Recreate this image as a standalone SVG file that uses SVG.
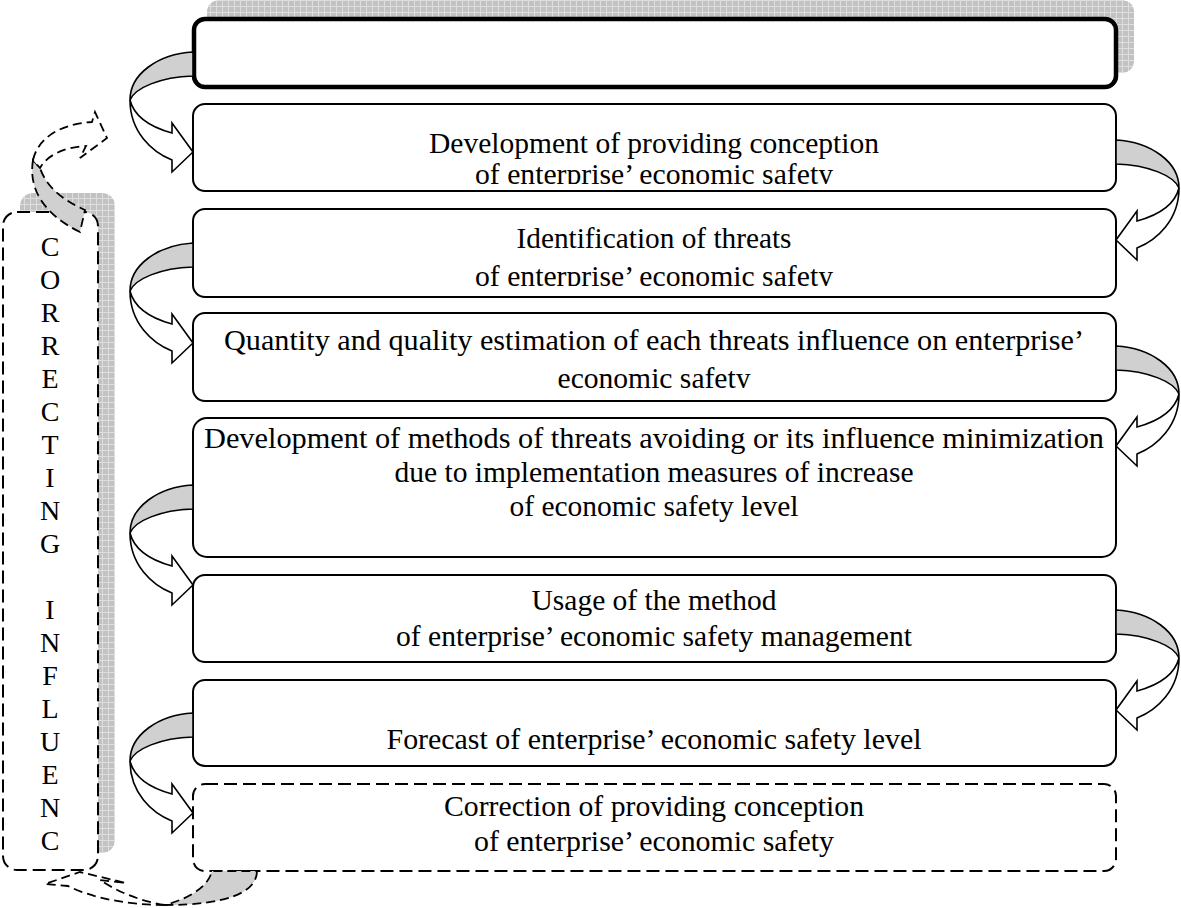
<svg xmlns="http://www.w3.org/2000/svg" width="1181" height="908" viewBox="0 0 1181 908">
<style>
.box{fill:#fff;stroke:#000;stroke-width:2}
.dash{fill:#fff;stroke:#000;stroke-width:2;stroke-dasharray:13 6}
.t{font-family:"Liberation Serif","Times New Roman",serif;font-size:30px;fill:#000;text-anchor:middle}
.v{font-family:"Liberation Serif","Times New Roman",serif;font-size:28px;fill:#000;text-anchor:middle}
.band{fill:#d0d0d0;stroke:#000;stroke-width:1.6;stroke-linejoin:round}
.rib{fill:#fff;stroke:#000;stroke-width:1.6;stroke-linejoin:miter}
.dband{fill:#d0d0d0;stroke:#000;stroke-width:1.8;stroke-dasharray:9 5}
.drib{fill:#fff;stroke:#000;stroke-width:1.8;stroke-dasharray:9 5}
</style>
<defs>
<pattern id="hatch" width="6" height="6" patternUnits="userSpaceOnUse">
<rect width="6" height="6" fill="#c2c2c2"/>
<path d="M0 0.5H6M0.5 0V6" stroke="#dedede" stroke-width="1"/>
</pattern>
<g id="carrow">
<path class="band" d="M0,0 C-35,2 -63,22 -63,48 C-58,36 -33,25 0,24 Z"/>
<path class="rib" d="M-63,48 C-63,80 -41,100 -21,108 L-21,120 L0,100 L-21,71 L-21,81 C-43,75 -59,64 -63,48 Z"/>
</g>
<clipPath id="c2"><rect x="193" y="104" width="923" height="80"/></clipPath>
<clipPath id="c3"><rect x="193" y="209" width="923" height="77"/></clipPath>
<clipPath id="c4"><rect x="193" y="313" width="923" height="75"/></clipPath>
</defs>

<g id="node-correcting">
<rect x="20" y="193" width="95" height="660" rx="13" fill="url(#hatch)"/>
<rect class="dash" x="3" y="212" width="95" height="658" rx="14"/>
<g class="v">
<text x="50" y="256">C</text>
<text x="50" y="289">O</text>
<text x="50" y="322">R</text>
<text x="50" y="355">R</text>
<text x="50" y="388">E</text>
<text x="50" y="421">C</text>
<text x="50" y="454">T</text>
<text x="50" y="487">I</text>
<text x="50" y="520">N</text>
<text x="50" y="553">G</text>
<text x="50" y="619">I</text>
<text x="50" y="652">N</text>
<text x="50" y="685">F</text>
<text x="50" y="718">L</text>
<text x="50" y="751">U</text>
<text x="50" y="784">E</text>
<text x="50" y="817">N</text>
<text x="50" y="850">C</text>
</g>
</g>

<g id="node-top">
<rect x="207" y="0" width="927" height="73" rx="12" fill="url(#hatch)"/>
<rect x="194" y="19" width="922" height="68" rx="11" fill="#fff" stroke="#000" stroke-width="4.5"/>
</g>

<g id="node-development">
<rect class="box" x="193" y="104" width="923" height="87" rx="12"/>
<text class="t" x="654" y="153" textLength="450" lengthAdjust="spacingAndGlyphs">Development of providing conception</text>
<text class="t" x="654" y="184" textLength="358" lengthAdjust="spacingAndGlyphs" clip-path="url(#c2)">of enterprise’ economic safety</text>
</g>

<g id="node-identification">
<rect class="box" x="193" y="209" width="923" height="88" rx="12"/>
<text class="t" x="654" y="248" textLength="275" lengthAdjust="spacingAndGlyphs">Identification of threats</text>
<text class="t" x="654" y="286" textLength="358" lengthAdjust="spacingAndGlyphs" clip-path="url(#c3)">of enterprise’ economic safety</text>
</g>

<g id="node-estimation">
<rect class="box" x="193" y="313" width="923" height="88" rx="12"/>
<text class="t" x="654" y="350" textLength="860" lengthAdjust="spacingAndGlyphs">Quantity and quality estimation of each threats influence on enterprise’</text>
<text class="t" x="654" y="388" textLength="193" lengthAdjust="spacingAndGlyphs" clip-path="url(#c4)">economic safety</text>
</g>

<g id="node-methods">
<rect class="box" x="193" y="418" width="923" height="139" rx="14"/>
<text class="t" x="654" y="448" textLength="900" lengthAdjust="spacingAndGlyphs">Development of methods of threats avoiding or its influence minimization</text>
<text class="t" x="654" y="482" textLength="519" lengthAdjust="spacingAndGlyphs">due to implementation measures of increase</text>
<text class="t" x="654" y="516" textLength="289" lengthAdjust="spacingAndGlyphs">of economic safety level</text>
</g>

<g id="node-usage">
<rect class="box" x="193" y="575" width="923" height="87" rx="12"/>
<text class="t" x="654" y="610" textLength="245" lengthAdjust="spacingAndGlyphs">Usage of the method</text>
<text class="t" x="654" y="646" textLength="516" lengthAdjust="spacingAndGlyphs">of enterprise’ economic safety management</text>
</g>

<g id="node-forecast">
<rect class="box" x="193" y="680" width="923" height="86" rx="12"/>
<text class="t" x="654" y="749" textLength="535" lengthAdjust="spacingAndGlyphs">Forecast of enterprise’ economic safety level</text>
</g>

<g id="node-correction">
<rect class="dash" x="193" y="784" width="923" height="87" rx="12"/>
<text class="t" x="654" y="816" textLength="420" lengthAdjust="spacingAndGlyphs">Correction of providing conception</text>
<text class="t" x="654" y="851" textLength="360" lengthAdjust="spacingAndGlyphs">of enterprise’ economic safety</text>
</g>

<g id="connectors">
<use href="#carrow" transform="translate(193,52)"/>
<use href="#carrow" transform="translate(1116,140) scale(-1,1)"/>
<use href="#carrow" transform="translate(193,243)"/>
<use href="#carrow" transform="translate(1116,346) scale(-1,1)"/>
<use href="#carrow" transform="translate(193,485)"/>
<use href="#carrow" transform="translate(1116,610) scale(-1,1)"/>
<use href="#carrow" transform="translate(193,713)"/>
<path class="dband" d="M257,871 C257,893 225,905 165,905 C190,898 208,887 212,871 Z"/>
<path class="drib" d="M165,905 C128,905 92,898 68,886 L45,884 L80,872 L126,883 L100,880 C118,892 140,901 165,905 Z"/>
<path class="dband" d="M33,160 C28,190 45,215 80,232 L85,210 C62,200 46,186 40,168 Z"/>
<path class="drib" d="M33,160 C38,138 60,124 92,122 L95,112 L107,138 L80,158 L86,146 C66,147 48,154 40,168 Z"/>
</g>
</svg>
